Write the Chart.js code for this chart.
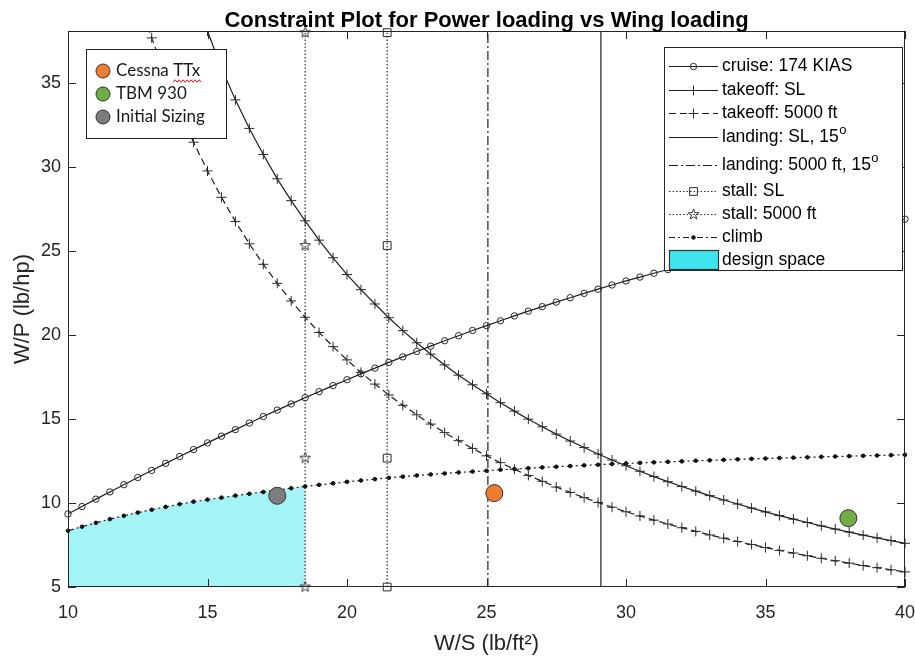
<!DOCTYPE html>
<html>
<head>
<meta charset="utf-8">
<script src="https://cdn.jsdelivr.net/npm/chart.js@4.4.1/dist/chart.umd.min.js"></script>
<style>
  html, body { margin: 0; padding: 0; background: #fff; }
  canvas { display: block; }
</style>
</head>
<body>
<canvas id="constraintPlot" width="915" height="660"></canvas>
<script>
// wing loading grid, lb/ft^2
const wingLoading = [10, 10.5, 11, 11.5, 12, 12.5, 13, 13.5, 14, 14.5, 15, 15.5, 16, 16.5, 17, 17.5, 18, 18.5, 19, 19.5,
    20, 20.5, 21, 21.5, 22, 22.5, 23, 23.5, 24, 24.5, 25, 25.5, 26, 26.5, 27, 27.5, 28, 28.5, 29, 29.5,
    30, 30.5, 31, 31.5, 32, 32.5, 33, 33.5, 34, 34.5, 35, 35.5, 36, 36.5, 37, 37.5, 38, 38.5, 39, 39.5, 40]

// power loading, lb/hp
const cruiseWP = [9.35, 9.79, 10.23, 10.66, 11.09, 11.52, 11.94, 12.36, 12.77, 13.18, 13.58, 13.98, 14.37, 14.76, 15.15, 15.53, 15.90, 16.27, 16.63, 16.99,
    17.34, 17.69, 18.03, 18.37, 18.70, 19.02, 19.34, 19.66, 19.96, 20.27, 20.56, 20.85, 21.14, 21.42, 21.69, 21.96, 22.22, 22.48, 22.73, 22.98,
    23.22, 23.45, 23.68, 23.90, 24.12, 24.33, 24.54, 24.74, 24.94, 25.13, 25.32, 25.50, 25.67, 25.84, 26.01, 26.17, 26.33, 26.48, 26.62, 26.77, 26.90]

const takeoffSLWP = [74.3, 68.6, 63.5, 59.0, 55.0, 51.4, 48.2, 45.2, 42.5, 40.2, 38.1, 35.9, 34.0, 32.3, 30.75, 29.3, 28.0, 26.8, 25.65, 24.6,
    23.6, 22.7, 21.85, 21.03, 20.26, 19.54, 18.86, 18.22, 17.61, 17.04, 16.50, 15.97, 15.47, 14.99, 14.54, 14.10, 13.69, 13.30, 12.92, 12.56,
    12.22, 11.89, 11.57, 11.27, 10.98, 10.71, 10.44, 10.18, 9.94, 9.70, 9.47, 9.25, 9.04, 8.84, 8.64, 8.45, 8.27, 8.09, 7.92, 7.76, 7.60]

const takeoff5kWP = [58.11, 53.61, 49.65, 46.14, 43.01, 40.21, 37.69, 35.42, 33.35, 31.48, 29.77, 28.20, 26.76, 25.43, 24.21, 23.08, 22.03, 21.06, 20.15, 19.31,
    18.52, 17.78, 17.08, 16.43, 15.82, 15.25, 14.70, 14.19, 13.71, 13.25, 12.81, 12.40, 12.01, 11.64, 11.29, 10.95, 10.63, 10.32, 10.03, 9.75,
    9.48, 9.23, 8.98, 8.75, 8.53, 8.31, 8.10, 7.91, 7.71, 7.53, 7.35, 7.18, 7.02, 6.86, 6.71, 6.56, 6.42, 6.28, 6.15, 6.02, 5.90]

const climbWP = [8.35, 8.59, 8.82, 9.04, 9.24, 9.43, 9.60, 9.77, 9.93, 10.08, 10.20, 10.32, 10.44, 10.55, 10.66, 10.77, 10.88, 10.99, 11.08, 11.17,
    11.26, 11.34, 11.42, 11.50, 11.57, 11.64, 11.70, 11.76, 11.82, 11.87, 11.92, 11.98, 12.02, 12.07, 12.12, 12.16, 12.20, 12.24, 12.28, 12.32,
    12.35, 12.39, 12.42, 12.45, 12.48, 12.52, 12.54, 12.57, 12.60, 12.63, 12.65, 12.68, 12.70, 12.72, 12.75, 12.77, 12.79, 12.81, 12.83, 12.85, 12.87]

// vertical constraints (W/S)
const landingSLWS = 29.1
const landing5kWS = 25.05
const stallSLWS = 21.44
const stall5kWS = 18.5
const verticalWP = [5, 38.1]
const stallMarkWP = [5, 12.67, 25.33, 38]

// reference aircraft
const aircraftNames = ['Cessna TTx', 'TBM 930', 'Initial Sizing']
const aircraftWS = [25.28, 37.97, 17.5]
const aircraftWP = [10.59, 9.1, 10.43]
const aircraftColors = ['rgb(237,125,49)', 'rgb(112,173,71)', 'rgb(125,125,125)']

const xTickValues = [10, 15, 20, 25, 30, 35, 40]
const yTickValues = [5, 10, 15, 20, 25, 30, 35]

const legendLabels = ['cruise: 174 KIAS', 'takeoff: SL', 'takeoff: 5000 ft', 'landing: SL, 15°',
    'landing: 5000 ft, 15°', 'stall: SL', 'stall: 5000 ft', 'climb', 'design space']

const lineColor = '#1f1f1f'
const axisColor = '#262626'
const fontFamily = '"Liberation Sans", Arial, Helvetica, sans-serif'

const pentagram = (() => {
    const c = document.createElement('canvas')
    c.width = 13
    c.height = 13
    const g = c.getContext('2d')
    g.strokeStyle = '#333'
    g.lineWidth = 1
    g.beginPath()
    for (let i = 0; i < 10; i++) {
        const r = i % 2 ? 2.3 : 5.6
        const a = -Math.PI / 2 + i * Math.PI / 5
        const px = 6.5 + r * Math.cos(a)
        const py = 6.5 + r * Math.sin(a)
        if (i) g.lineTo(px, py)
        else g.moveTo(px, py)
    }
    g.closePath()
    g.stroke()
    return c
})()

const toPoints = (xs, ys) => xs.map((x, i) => ({ x: x, y: ys[i] }))
const constPoints = (x, ys) => ys.map(y => ({ x: x, y: y }))

const baseLine = (label, data, extra) => Object.assign({
    label: label,
    data: data,
    borderColor: lineColor,
    borderWidth: 1.2,
    fill: false,
    tension: 0,
    pointRadius: 0,
    pointBorderColor: '#2a2a2a',
    pointBackgroundColor: 'rgba(0,0,0,0)',
    pointBorderWidth: 1,
    clip: false,
}, extra)

const designCount = wingLoading.filter(w => w <= stall5kWS).length
const topClip = { left: 10, right: 10, top: 0, bottom: 10 }

const datasets = [
    baseLine(legendLabels[0], toPoints(wingLoading, cruiseWP), { pointStyle: 'circle', pointRadius: 3.2 }),
    baseLine(legendLabels[1], toPoints(wingLoading, takeoffSLWP), { pointStyle: 'cross', pointRadius: 5, clip: topClip }),
    baseLine(legendLabels[2], toPoints(wingLoading, takeoff5kWP), { pointStyle: 'cross', pointRadius: 5, borderDash: [7, 4], clip: topClip }),
    baseLine(legendLabels[3], constPoints(landingSLWS, verticalWP), {}),
    baseLine(legendLabels[4], constPoints(landing5kWS, verticalWP), { borderDash: [9, 3, 2, 3] }),
    baseLine(legendLabels[5], constPoints(stallSLWS, stallMarkWP), { borderDash: [1.5, 2], borderColor: '#333', pointStyle: 'rect', pointRadius: 5.5 }),
    baseLine(legendLabels[6], constPoints(stall5kWS, stallMarkWP), { borderDash: [1.5, 2], borderColor: '#333', pointStyle: pentagram, pointRadius: 5 }),
    baseLine(legendLabels[7], toPoints(wingLoading, climbWP), { borderDash: [6, 3, 2, 3], pointStyle: 'circle', pointRadius: 1.8, pointBackgroundColor: '#111', pointBorderColor: '#111' }),
    {
        label: legendLabels[8],
        data: toPoints(wingLoading.slice(0, designCount), climbWP.slice(0, designCount)),
        borderWidth: 0,
        borderColor: 'rgba(0,0,0,0)',
        backgroundColor: 'rgb(164,243,247)',
        fill: 'start',
        pointRadius: 0,
        order: 10,
    },
]

aircraftNames.forEach((name, i) => {
    datasets.push({
        label: name,
        data: [{ x: aircraftWS[i], y: aircraftWP[i] }],
        showLine: false,
        pointRadius: 8.5,
        pointBackgroundColor: aircraftColors[i],
        pointBorderColor: '#333',
        pointBorderWidth: 1,
        clip: false,
        order: -1,
    })
})

const drawMarker = (ctx, ds, x, y) => {
    const style = ds.pointStyle
    const r = ds.pointRadius
    if (!style || !r) return
    ctx.save()
    ctx.setLineDash([])
    ctx.lineWidth = ds.pointBorderWidth || 1
    ctx.strokeStyle = ds.pointBorderColor
    ctx.fillStyle = ds.pointBackgroundColor
    ctx.beginPath()
    if (style instanceof HTMLCanvasElement) {
        ctx.drawImage(style, x - style.width / 2, y - style.height / 2)
    } else if (style === 'circle') {
        ctx.arc(x, y, r, 0, Math.PI * 2)
        ctx.fill()
        ctx.stroke()
    } else if (style === 'cross') {
        ctx.moveTo(x - r, y); ctx.lineTo(x + r, y)
        ctx.moveTo(x, y - r); ctx.lineTo(x, y + r)
        ctx.stroke()
    } else if (style === 'rect') {
        const s = r * Math.SQRT1_2
        ctx.rect(x - s, y - s, 2 * s, 2 * s)
        ctx.stroke()
    }
    ctx.restore()
}

const frameAndLegends = {
    id: 'frameAndLegends',
    afterDraw(chart) {
        const ctx = chart.ctx
        const { left, right, top, bottom } = chart.chartArea
        const xs = chart.scales.x
        const ys = chart.scales.y
        const tickLen = 8

        ctx.save()
        ctx.strokeStyle = axisColor
        ctx.lineWidth = 1
        ctx.setLineDash([])
        ctx.strokeRect(left + 0.5, top + 0.5, right - left - 1, bottom - top - 1)
        ctx.beginPath()
        for (const v of xTickValues) {
            const px = Math.round(xs.getPixelForValue(v)) + 0.5
            ctx.moveTo(px, bottom)
            ctx.lineTo(px, bottom - tickLen)
            ctx.moveTo(px, top)
            ctx.lineTo(px, top + tickLen)
        }
        for (const v of yTickValues) {
            const py = Math.round(ys.getPixelForValue(v)) + 0.5
            ctx.moveTo(left, py)
            ctx.lineTo(left + tickLen, py)
            ctx.moveTo(right, py)
            ctx.lineTo(right - tickLen, py)
        }
        ctx.stroke()

        // title
        ctx.fillStyle = '#000'
        ctx.font = 'bold 22px ' + fontFamily
        ctx.textAlign = 'center'
        ctx.textBaseline = 'alphabetic'
        ctx.fillText('Constraint Plot for Power loading vs Wing loading', (left + right) / 2, 27)

        // constraint legend (top right)
        const lx = 664, ly = 47, lw = 238, lh = 223
        ctx.fillStyle = '#fff'
        ctx.fillRect(lx, ly, lw, lh)
        ctx.strokeStyle = axisColor
        ctx.strokeRect(lx + 0.5, ly + 0.5, lw, lh)
        const rowY = [66, 90, 113, 137, 165, 191, 214, 237, 260]
        const sx0 = 669, sx1 = 718, tx = 722
        ctx.textAlign = 'left'
        ctx.textBaseline = 'middle'
        for (let i = 0; i < legendLabels.length; i++) {
            const ds = chart.data.datasets[i]
            const y = rowY[i]
            if (ds.fill === 'start') {
                ctx.fillStyle = 'rgb(62,228,238)'
                ctx.fillRect(sx0, y - 10, sx1 - sx0, 20)
                ctx.strokeStyle = '#333'
                ctx.setLineDash([])
                ctx.strokeRect(sx0 + 0.5, y - 9.5, sx1 - sx0, 19)
            } else {
                ctx.strokeStyle = ds.borderColor
                ctx.lineWidth = ds.borderWidth
                ctx.setLineDash(ds.borderDash || [])
                ctx.beginPath()
                ctx.moveTo(sx0, y + 0.5)
                ctx.lineTo(sx1, y + 0.5)
                ctx.stroke()
                drawMarker(ctx, ds, (sx0 + sx1) / 2, y + 0.5)
            }
            ctx.fillStyle = '#000'
            ctx.font = '17.5px ' + fontFamily
            const label = legendLabels[i]
            if (label.endsWith('°')) {
                const base = label.slice(0, -1)
                ctx.fillText(base, tx, y)
                const w = ctx.measureText(base).width
                ctx.font = '13px ' + fontFamily
                ctx.fillText('o', tx + w + 0.5, y - 7)
            } else {
                ctx.fillText(label, tx, y)
            }
        }

        // aircraft legend (top left)
        const ax = 86, ay = 49, aw = 140, ah = 89
        ctx.setLineDash([])
        ctx.lineWidth = 1
        ctx.fillStyle = '#fff'
        ctx.fillRect(ax, ay, aw, ah)
        ctx.strokeStyle = '#222'
        ctx.strokeRect(ax + 0.5, ay + 0.5, aw, ah)
        const aRowY = [71, 94, 117]
        ctx.font = '17px Lato, "Open Sans", sans-serif'
        for (let i = 0; i < aircraftNames.length; i++) {
            ctx.beginPath()
            ctx.arc(103, aRowY[i], 7, 0, Math.PI * 2)
            ctx.fillStyle = aircraftColors[i]
            ctx.fill()
            ctx.strokeStyle = '#333'
            ctx.stroke()
            ctx.fillStyle = '#1a1a1a'
            ctx.fillText(aircraftNames[i], 116, aRowY[i])
        }
        // spell-check squiggle under "TTx"
        const pre = ctx.measureText('Cessna ').width
        const word = ctx.measureText('TTx').width
        ctx.strokeStyle = '#e01010'
        ctx.lineWidth = 1
        ctx.beginPath()
        const sy = aRowY[0] + 10
        for (let k = 0; k <= Math.ceil(word / 2); k++) {
            const px = 116 + pre + k * 2
            const py = sy + (k % 2 ? -1.2 : 1.2)
            if (k) ctx.lineTo(px, py)
            else ctx.moveTo(px, py)
        }
        ctx.stroke()
        ctx.restore()
    },
}

new Chart(document.getElementById('constraintPlot'), {
    type: 'line',
    data: { datasets: datasets },
    options: {
        responsive: false,
        animation: false,
        devicePixelRatio: 1,
        layout: { padding: { left: 0, right: 10, top: 31, bottom: 0 } },
        plugins: {
            legend: { display: false },
            tooltip: { enabled: false },
            title: { display: false },
        },
        scales: {
            x: {
                type: 'linear',
                min: 10,
                max: 40,
                grid: { display: false, drawTicks: false },
                border: { display: false },
                ticks: { stepSize: 5, padding: 15, color: axisColor, font: { family: fontFamily, size: 18 } },
                title: { display: true, text: 'W/S (lb/ft²)', color: axisColor, font: { family: fontFamily, size: 22 }, padding: { top: 0, bottom: 3 } },
                afterFit: (scale) => {
                    scale.height = 73
                    scale.paddingLeft = 0
                    scale.paddingRight = 0
                },
            },
            y: {
                type: 'linear',
                min: 5,
                max: 38.1,
                grid: { display: false, drawTicks: false },
                border: { display: false },
                ticks: { stepSize: 5, padding: 7, color: axisColor, font: { family: fontFamily, size: 18 } },
                afterBuildTicks: (scale) => { scale.ticks = scale.ticks.filter(t => Math.abs(t.value % 5) < 1e-6) },
                title: { display: true, text: 'W/P (lb/hp)', color: axisColor, font: { family: fontFamily, size: 22 }, padding: { top: 10, bottom: 0 } },
                afterFit: (scale) => {
                    scale.width = 68
                    scale.paddingTop = 0
                    scale.paddingBottom = 0
                },
            },
        },
    },
    plugins: [frameAndLegends],
})
</script>
</body>
</html>
